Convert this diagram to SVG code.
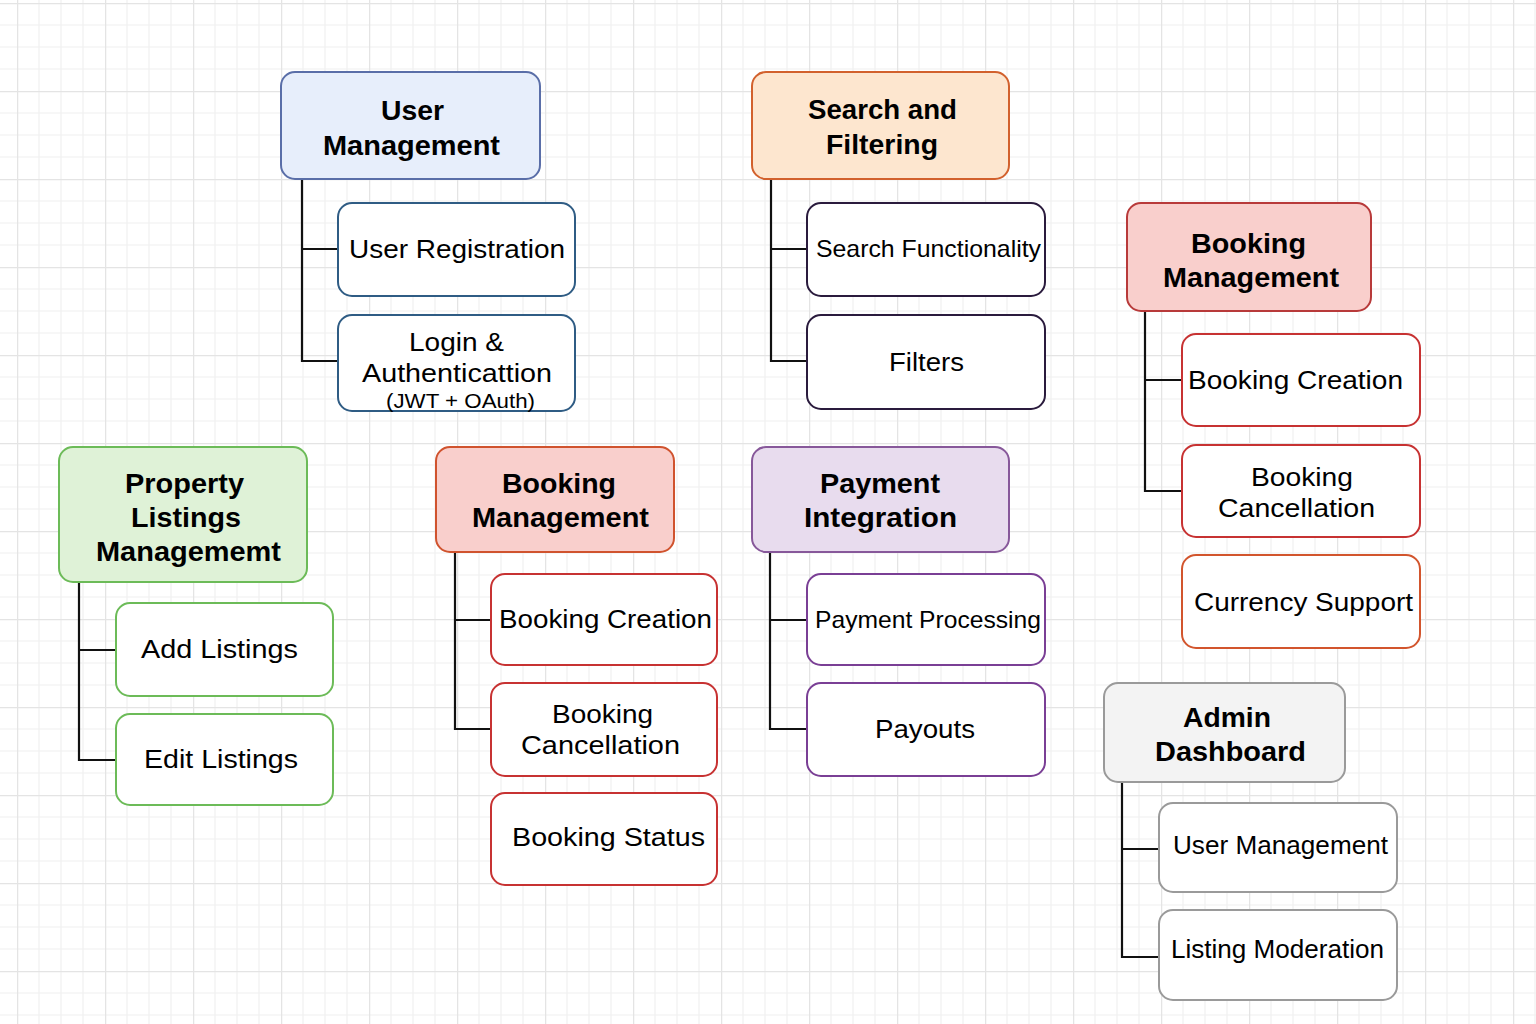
<svg xmlns="http://www.w3.org/2000/svg" width="1536" height="1024" viewBox="0 0 1536 1024">
<defs>
<pattern id="grid" x="17" y="3" width="88" height="88" patternUnits="userSpaceOnUse">
<path d="M22 0V88M44 0V88M66 0V88M0 22H88M0 44H88M0 66H88" stroke="#f0f0f0" stroke-width="1.2" fill="none"/>
<path d="M0.5 0V88M0 0.5H88" stroke="#e4e4e4" stroke-width="1.5" fill="none"/>
</pattern>
<style>
.h{font-family:"Liberation Sans",Arial,sans-serif;font-weight:bold;font-size:28px;fill:#000}
.t{font-family:"Liberation Sans",Arial,sans-serif;font-size:26px;fill:#000}
.s{font-family:"Liberation Sans",Arial,sans-serif;font-size:20px;fill:#000}
rect{stroke-width:2}
.c{fill:#fff}
.conn path{fill:none;stroke:#111;stroke-width:2.2}
</style>
</defs>
<rect x="0" y="0" width="1536" height="1024" fill="#fff" stroke="none"/>
<rect x="0" y="0" width="1536" height="1024" fill="url(#grid)" stroke="none"/>

<g class="conn" id="connectors">
<path d="M302 179V361H338M302 249H338"/>
<path d="M771 179V361H807M771 249H807"/>
<path d="M1145 311V491H1182M1145 380H1182"/>
<path d="M79 582V760H116M79 650H116"/>
<path d="M455 552V729H491M455 620H491"/>
<path d="M770 552V729H807M770 620H807"/>
<path d="M1122 782V957H1159M1122 849H1159"/>
</g>

<g id="user-management">
<rect x="281" y="72" width="259" height="107" rx="14" fill="#e7eefb" stroke="#5a6ea8"/>
<text class="h" x="381" y="120" textLength="63" lengthAdjust="spacingAndGlyphs">User</text>
<text class="h" x="323" y="155" textLength="177" lengthAdjust="spacingAndGlyphs">Management</text>
</g>
<g id="user-registration">
<rect class="c" x="338" y="203" width="237" height="93" rx="14" stroke="#2f5c84"/>
<text class="t" x="349" y="258" textLength="216" lengthAdjust="spacingAndGlyphs">User Registration</text>
</g>
<g id="login-auth">
<rect class="c" x="338" y="315" width="237" height="96" rx="14" stroke="#2f5c84"/>
<text class="t" x="409" y="351" textLength="95" lengthAdjust="spacingAndGlyphs">Login &amp;</text>
<text class="t" x="362" y="382" textLength="190" lengthAdjust="spacingAndGlyphs">Authenticattion</text>
<text class="s" x="386" y="408" textLength="149" lengthAdjust="spacingAndGlyphs">(JWT + OAuth)</text>
</g>

<g id="search-filtering">
<rect x="752" y="72" width="257" height="107" rx="14" fill="#fde6cf" stroke="#d2612d"/>
<text class="h" x="808" y="119" textLength="149" lengthAdjust="spacingAndGlyphs">Search and</text>
<text class="h" x="826" y="154" textLength="112" lengthAdjust="spacingAndGlyphs">Filtering</text>
</g>
<g id="search-functionality">
<rect class="c" x="807" y="203" width="238" height="93" rx="14" stroke="#2a1b3d"/>
<text class="t" x="816" y="257" textLength="225" lengthAdjust="spacingAndGlyphs" style="font-size:24px">Search Functionality</text>
</g>
<g id="filters">
<rect class="c" x="807" y="315" width="238" height="94" rx="14" stroke="#2a1b3d"/>
<text class="t" x="889" y="371" textLength="75" lengthAdjust="spacingAndGlyphs">Filters</text>
</g>

<g id="booking-management-right">
<rect x="1127" y="203" width="244" height="108" rx="14" fill="#f9cfcc" stroke="#b83a3a"/>
<text class="h" x="1191" y="253" textLength="115" lengthAdjust="spacingAndGlyphs">Booking</text>
<text class="h" x="1163" y="287" textLength="176" lengthAdjust="spacingAndGlyphs">Management</text>
</g>
<g id="booking-creation-right">
<rect class="c" x="1182" y="334" width="238" height="92" rx="14" stroke="#c73232"/>
<text class="t" x="1188" y="389" textLength="215" lengthAdjust="spacingAndGlyphs">Booking Creation</text>
</g>
<g id="booking-cancellation-right">
<rect class="c" x="1182" y="445" width="238" height="92" rx="14" stroke="#c73232"/>
<text class="t" x="1251" y="486" textLength="102" lengthAdjust="spacingAndGlyphs">Booking</text>
<text class="t" x="1218" y="517" textLength="157" lengthAdjust="spacingAndGlyphs">Cancellation</text>
</g>
<g id="currency-support">
<rect class="c" x="1182" y="555" width="238" height="93" rx="14" stroke="#d2552d"/>
<text class="t" x="1194" y="611" textLength="219" lengthAdjust="spacingAndGlyphs">Currency Support</text>
</g>

<g id="property-listings">
<rect x="59" y="447" width="248" height="135" rx="14" fill="#dff2d7" stroke="#6cbb58"/>
<text class="h" x="125" y="493" textLength="119" lengthAdjust="spacingAndGlyphs">Property</text>
<text class="h" x="131" y="527" textLength="110" lengthAdjust="spacingAndGlyphs">Listings</text>
<text class="h" x="96" y="561" textLength="185" lengthAdjust="spacingAndGlyphs">Managememt</text>
</g>
<g id="add-listings">
<rect class="c" x="116" y="603" width="217" height="93" rx="14" stroke="#6cbb58"/>
<text class="t" x="141" y="658" textLength="157" lengthAdjust="spacingAndGlyphs">Add Listings</text>
</g>
<g id="edit-listings">
<rect class="c" x="116" y="714" width="217" height="91" rx="14" stroke="#6cbb58"/>
<text class="t" x="144" y="768" textLength="154" lengthAdjust="spacingAndGlyphs">Edit Listings</text>
</g>

<g id="booking-management-mid">
<rect x="436" y="447" width="238" height="105" rx="14" fill="#f9cfcc" stroke="#d0532e"/>
<text class="h" x="502" y="493" textLength="114" lengthAdjust="spacingAndGlyphs">Booking</text>
<text class="h" x="472" y="527" textLength="177" lengthAdjust="spacingAndGlyphs">Management</text>
</g>
<g id="booking-creation-mid">
<rect class="c" x="491" y="574" width="226" height="91" rx="14" stroke="#c73232"/>
<text class="t" x="499" y="628" textLength="213" lengthAdjust="spacingAndGlyphs">Booking Creation</text>
</g>
<g id="booking-cancellation-mid">
<rect class="c" x="491" y="683" width="226" height="93" rx="14" stroke="#c73232"/>
<text class="t" x="552" y="723" textLength="101" lengthAdjust="spacingAndGlyphs">Booking</text>
<text class="t" x="521" y="754" textLength="159" lengthAdjust="spacingAndGlyphs">Cancellation</text>
</g>
<g id="booking-status">
<rect class="c" x="491" y="793" width="226" height="92" rx="14" stroke="#c73232"/>
<text class="t" x="512" y="846" textLength="193" lengthAdjust="spacingAndGlyphs">Booking Status</text>
</g>

<g id="payment-integration">
<rect x="752" y="447" width="257" height="105" rx="14" fill="#e8dcee" stroke="#87589a"/>
<text class="h" x="820" y="493" textLength="120" lengthAdjust="spacingAndGlyphs">Payment</text>
<text class="h" x="804" y="527" textLength="153" lengthAdjust="spacingAndGlyphs">Integration</text>
</g>
<g id="payment-processing">
<rect class="c" x="807" y="574" width="238" height="91" rx="14" stroke="#7a3f95"/>
<text class="t" x="815" y="628" textLength="226" lengthAdjust="spacingAndGlyphs" style="font-size:24px">Payment Processing</text>
</g>
<g id="payouts">
<rect class="c" x="807" y="683" width="238" height="93" rx="14" stroke="#7a3f95"/>
<text class="t" x="875" y="738" textLength="100" lengthAdjust="spacingAndGlyphs">Payouts</text>
</g>

<g id="admin-dashboard">
<rect x="1104" y="683" width="241" height="99" rx="14" fill="#f3f3f3" stroke="#9a9a9a"/>
<text class="h" x="1183" y="727" textLength="88" lengthAdjust="spacingAndGlyphs">Admin</text>
<text class="h" x="1155" y="761" textLength="151" lengthAdjust="spacingAndGlyphs">Dashboard</text>
</g>
<g id="admin-user-management">
<rect class="c" x="1159" y="803" width="238" height="89" rx="14" stroke="#9a9a9a"/>
<text class="t" x="1173" y="854" textLength="215" lengthAdjust="spacingAndGlyphs">User Management</text>
</g>
<g id="listing-moderation">
<rect class="c" x="1159" y="910" width="238" height="90" rx="14" stroke="#9a9a9a"/>
<text class="t" x="1171" y="958" textLength="213" lengthAdjust="spacingAndGlyphs">Listing Moderation</text>
</g>
</svg>
